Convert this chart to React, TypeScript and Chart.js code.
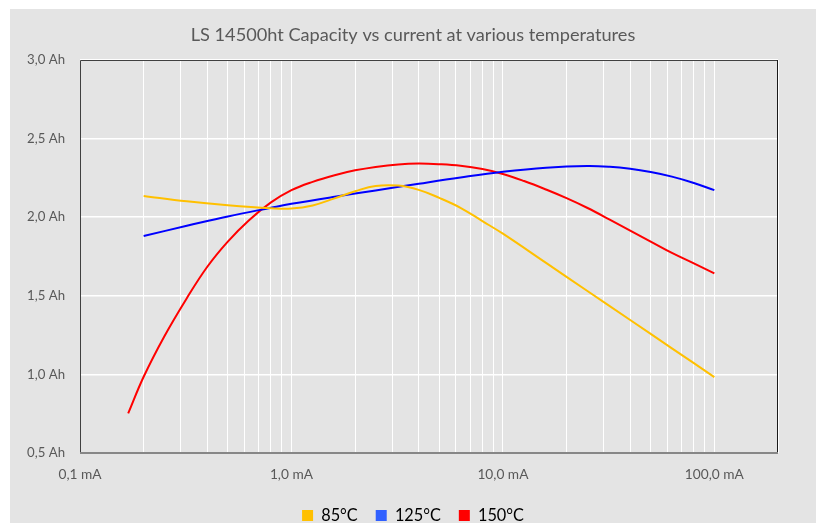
import React, { useEffect, useRef } from 'react';
import { Chart, registerables } from 'chart.js';

Chart.register(...registerables);

const TITLE = 'LS 14500ht Capacity vs current at various temperatures';
const SERIES_NAMES = ['85°C', '125°C', '150°C'];

// current in mA, capacity in Ah
const CURRENT_85 = [0.2, 0.32, 0.5, 0.8, 1.0, 1.26, 1.6, 2.0, 2.5, 3.2, 4.0, 5.0, 6.3, 8.0, 10, 16, 25, 40, 63, 100];
const CAPACITY_85 = [2.135, 2.101, 2.076, 2.057, 2.055, 2.075, 2.12, 2.165, 2.199, 2.201, 2.174, 2.123, 2.06, 1.975, 1.895, 1.709, 1.532, 1.346, 1.166, 0.983];

const CURRENT_125 = [0.2, 0.32, 0.5, 0.8, 1.0, 1.6, 2.5, 4.0, 6.3, 10, 16, 25, 32, 40, 50, 63, 80, 100];
const CAPACITY_125 = [1.881, 1.945, 2.005, 2.06, 2.085, 2.13, 2.17, 2.213, 2.253, 2.289, 2.315, 2.326, 2.321, 2.308, 2.287, 2.258, 2.218, 2.172];

const CURRENT_150 = [0.169, 0.2, 0.25, 0.32, 0.4, 0.5, 0.63, 0.8, 1.0, 1.26, 1.6, 2.0, 2.5, 3.2, 4.0, 5.0, 6.3, 8.0, 10, 12.6, 16, 20, 25, 32, 40, 50, 63, 80, 100];
const CAPACITY_150 = [0.752, 0.985, 1.24, 1.485, 1.685, 1.845, 1.981, 2.094, 2.172, 2.225, 2.267, 2.298, 2.32, 2.336, 2.341, 2.337, 2.327, 2.306, 2.275, 2.23, 2.176, 2.121, 2.06, 1.985, 1.915, 1.845, 1.773, 1.706, 1.643];

const X_MIN = 0.1;
const X_MAX = 200;
const X_LABELED = [0.1, 1, 10, 100];
const Y_MIN = 0.5;
const Y_MAX = 3.0;
const Y_STEP = 0.5;

const LINE_COLORS = ['#FFC000', '#0000FF', '#FF0000'];
const LEGEND_COLORS = ['#FFC000', '#3060FF', '#FF0000'];

const FONT = 'Lato';

function fitFont(text: string, target: number): number {
  const c = document.createElement('canvas').getContext('2d')!;
  c.font = `100px ${FONT}`;
  const w = c.measureText(text).width;
  return (100 * target) / w;
}

const fmt = (v: number, unit: string) => v.toFixed(1).replace('.', ',') + ' ' + unit;

export default function App() {
  const ref = useRef<HTMLCanvasElement | null>(null);

  useEffect(() => {
    const canvas = ref.current!;
    const W = 806;
    const PLOT_TOP = 51;
    const PLOT_BOTTOM = 444;
    const PLOT_LEFT = 70;
    const PLOT_RIGHT = 768;

    const titleSize = fitFont(TITLE, 445);
    const xSize = fitFont('100,0 mA', 59);
    const ySize = fitFont('3,0 Ah', 38);
    const legendSize = fitFont('125°C', 46);

    const titleLine = titleSize * 1.2;
    const titleCenter = 26.5;
    const tPadTop = titleCenter - titleLine / 2;
    const tPadBottom = PLOT_TOP - tPadTop - titleLine;

    const legendPad = 18;
    const legendCenter = 506.5;
    const legendTop = legendCenter - legendPad - legendSize / 2;
    const legendBottom = legendTop + legendPad + legendSize + 10;
    const H = Math.ceil(legendBottom);
    const padBottom = H - legendBottom;
    const xAxisHeight = legendTop - PLOT_BOTTOM;

    canvas.width = W;
    canvas.height = H;
    canvas.style.width = W + 'px';
    canvas.style.height = H + 'px';

    const mk = (xs: number[], ys: number[]) => xs.map((x, i) => ({ x, y: ys[i] }));
    const series = [mk(CURRENT_85, CAPACITY_85), mk(CURRENT_125, CAPACITY_125), mk(CURRENT_150, CAPACITY_150)];

    const framePlugin = {
      id: 'frame',
      beforeDatasetsDraw(chart: any) {
        const { ctx, chartArea: a } = chart;
        ctx.save();
        ctx.lineWidth = 1;
        ctx.strokeStyle = '#404040';
        ctx.beginPath();
        ctx.moveTo(a.left + 0.5, a.bottom);
        ctx.lineTo(a.left + 0.5, a.top + 0.5);
        ctx.lineTo(a.right - 0.5, a.top + 0.5);
        ctx.stroke();
        ctx.strokeStyle = '#1a1a1a';
        ctx.beginPath();
        ctx.moveTo(a.right - 0.5, a.top);
        ctx.lineTo(a.right - 0.5, a.bottom);
        ctx.stroke();
        ctx.lineWidth = 2;
        ctx.strokeStyle = '#878787';
        ctx.beginPath();
        ctx.moveTo(a.left, a.bottom);
        ctx.lineTo(a.right, a.bottom);
        ctx.stroke();
        ctx.restore();
      },
    };

    const chart = new Chart(canvas, {
      type: 'line',
      data: {
        datasets: series.map((d, i) => ({
          label: SERIES_NAMES[i],
          data: d,
          borderColor: LINE_COLORS[i],
          backgroundColor: LINE_COLORS[i],
          borderWidth: 2,
          pointRadius: 0,
          tension: 0.4,
          fill: false,
        })),
      },
      options: {
        responsive: false,
        animation: false,
        events: [],
        layout: { padding: { left: 0, right: 0, top: 0, bottom: padBottom } },
        plugins: {
          title: {
            display: true,
            text: TITLE,
            color: '#595959',
            font: { family: FONT, size: titleSize, weight: 'normal' as const },
            padding: { top: tPadTop, bottom: tPadBottom },
          },
          legend: {
            display: true,
            position: 'bottom',
            labels: {
              color: '#262626',
              font: { family: FONT, size: legendSize },
              boxWidth: 11,
              boxHeight: 11,
              padding: legendPad,
              generateLabels: () =>
                SERIES_NAMES.map((name, i) => ({
                  text: name,
                  fillStyle: LEGEND_COLORS[i],
                  strokeStyle: LEGEND_COLORS[i],
                  lineWidth: 0,
                  hidden: false,
                  datasetIndex: i,
                })),
            },
          },
          tooltip: { enabled: false },
        },
        scales: {
          x: {
            type: 'logarithmic',
            min: X_MIN,
            max: X_MAX,
            afterFit: (scale: any) => {
              scale.height = xAxisHeight;
            },
            afterBuildTicks: (scale: any) => {
              const ticks: { value: number }[] = [];
              for (let d = X_MIN; d < X_MAX; d *= 10) {
                for (let m = 1; m <= 9; m++) {
                  const v = +(d * m).toPrecision(6);
                  if (v <= X_MAX) ticks.push({ value: v });
                }
              }
              scale.ticks = ticks;
            },
            grid: { color: '#ffffff', lineWidth: 1, drawTicks: false },
            border: { display: false },
            ticks: {
              autoSkip: false,
              maxRotation: 0,
              minRotation: 0,
              padding: 21.5 - (xSize * 1.2) / 2,
              color: '#595959',
              font: { family: FONT, size: xSize },
              callback: (value: any) => {
                const v = Number(value);
                const lab = X_LABELED.find((l) => Math.abs(l - v) / l < 1e-6);
                return lab !== undefined ? fmt(lab, 'mA') : '';
              },
            },
          },
          y: {
            type: 'linear',
            min: Y_MIN,
            max: Y_MAX,
            afterFit: (scale: any) => {
              scale.width = PLOT_LEFT;
            },
            grid: { color: '#ffffff', lineWidth: 1.5, drawTicks: false },
            border: { display: false },
            ticks: {
              stepSize: Y_STEP,
              padding: 15,
              color: '#595959',
              font: { family: FONT, size: ySize },
              callback: (value: any) => fmt(Number(value), 'Ah'),
            },
          },
          yRight: {
            type: 'linear',
            position: 'right',
            display: true,
            afterFit: (scale: any) => {
              scale.width = W - PLOT_RIGHT;
            },
            grid: { display: false, drawTicks: false },
            border: { display: false },
            ticks: { display: false },
          },
        },
      },
      plugins: [framePlugin],
    } as any);

    return () => chart.destroy();
  }, []);

  return (
    <div
      style={{
        position: 'absolute',
        left: 10,
        top: 9,
        width: 806,
        height: 514,
        background: '#e4e4e4',
        overflow: 'hidden',
      }}
    >
      <canvas ref={ref} style={{ display: 'block' }} />
    </div>
  );
}
